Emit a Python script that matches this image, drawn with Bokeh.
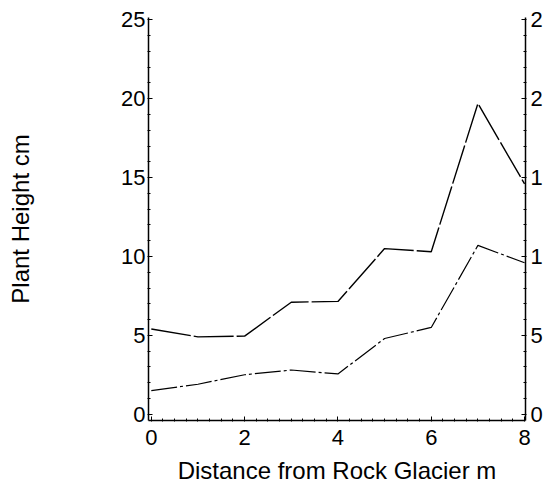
from bokeh.plotting import figure
from bokeh.models import LinearAxis, Range1d, FixedTicker
from bokeh.embed import file_html
from bokeh.resources import INLINE

distance = [0, 1, 2, 3, 4, 5, 6, 7, 8]
height_upper = [5.4, 4.9, 4.95, 7.1, 7.15, 10.5, 10.3, 19.7, 14.6]
height_lower = [1.5, 1.9, 2.5, 2.8, 2.55, 4.8, 5.5, 10.7, 9.6]
x_ticks = [0, 2, 4, 6, 8]
y_ticks = [0, 5, 10, 15, 20, 25]
right_labels = {0: "0", 5: "5", 10: "1", 15: "1", 20: "2", 25: "2"}

FONT = "Liberation Sans"

p = figure(width=545, height=490, output_backend="svg", toolbar_location=None,
           x_range=Range1d(-0.06, 8.02), y_range=Range1d(-0.4, 25.15),
           min_border_left=148, min_border_right=20, min_border_top=17, min_border_bottom=70)
p.grid.visible = False
p.outline_line_color = None

p.line(distance, height_upper, line_color="black", line_width=1.4, line_dash="40 3")
p.line(distance, height_lower, line_color="black", line_width=1.2, line_dash="26 3 3 3")

def style(ax):
    ax.axis_line_color = "black"
    ax.axis_line_width = 1.5
    ax.major_tick_line_color = "black"
    ax.minor_tick_line_color = "black"
    ax.major_tick_in = 4
    ax.major_tick_out = 0
    ax.minor_tick_in = 2
    ax.minor_tick_out = 1
    ax.major_label_text_font = FONT
    ax.major_label_text_font_size = "22px"
    ax.major_label_text_color = "black"
    ax.axis_label_text_font = FONT
    ax.axis_label_text_font_style = "normal"
    ax.axis_label_text_color = "black"
    ax.axis_label_text_font_size = "24px"

xa = p.xaxis[0]
style(xa)
xa.ticker = FixedTicker(ticks=x_ticks, minor_ticks=[i * 0.25 for i in range(33)])
xa.axis_label = "Distance from Rock Glacier m"
xa.major_label_standoff = 8
xa.axis_label_standoff = 9

ya = p.yaxis[0]
style(ya)
ya.ticker = FixedTicker(ticks=y_ticks, minor_ticks=[i * 1.0 for i in range(26)])
ya.axis_label = "Plant Height cm"
ya.major_label_standoff = 2
ya.axis_label_standoff = 84

ra = LinearAxis()
style(ra)
ra.ticker = FixedTicker(ticks=y_ticks, minor_ticks=[i * 1.0 for i in range(26)])
ra.major_label_overrides = right_labels
ra.major_label_standoff = 4
p.add_layout(ra, "right")

open("out.html", "w").write(file_html(p, INLINE))
